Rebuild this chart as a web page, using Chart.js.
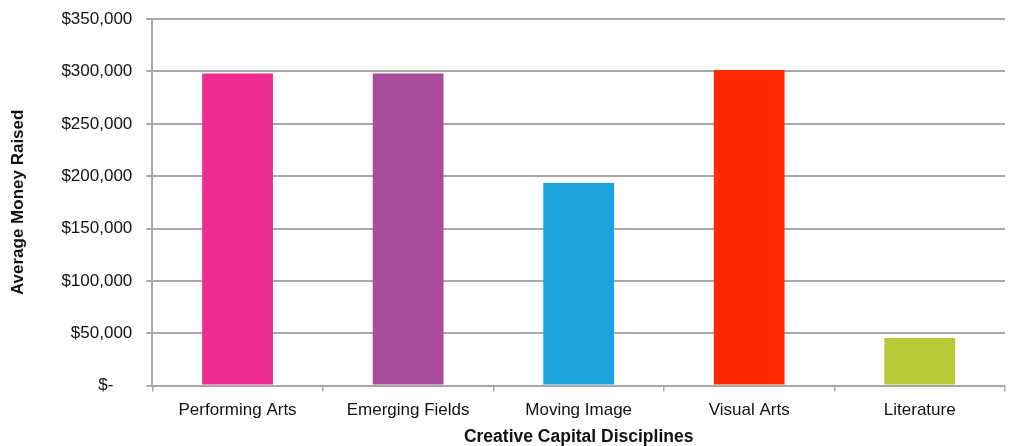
<!DOCTYPE html>
<html>
<head>
<meta charset="utf-8">
<script src="https://cdn.jsdelivr.net/npm/chart.js@4"></script>
<style>
  html, body { margin: 0; padding: 0; background: #fff; }
  #wrap { width: 1011px; height: 446px; position: relative; }
</style>
</head>
<body>
<div id="wrap"><canvas id="chart"></canvas></div>
<script>
const disciplines = ["Performing Arts", "Emerging Fields", "Moving Image", "Visual Arts", "Literature"];
const avgRaised = [298000, 298000, 193500, 301500, 45500];
const barColors = ["#ee2c93", "#a94c9a", "#1ba3dd", "#ff2a00", "#b6ca36"];

const gridGray = "#a8a8a8";
const font = { family: "Liberation Sans, Arial, sans-serif", size: 17 };

const ctx = document.getElementById("chart").getContext("2d");
new Chart(ctx, {
  type: "bar",
  data: {
    labels: disciplines,
    datasets: [{
      data: avgRaised,
      backgroundColor: barColors,
      categoryPercentage: 1,
      barPercentage: 0.415
    }]
  },
  options: {
    responsive: true,
    maintainAspectRatio: false,
    animation: false,
    layout: { padding: { top: 7, right: 6, left: 8, bottom: 0 } },
    plugins: {
      legend: { display: false },
      tooltip: { enabled: false }
    },
    scales: {
      x: {
        grid: {
          offset: true,
          drawOnChartArea: false,
          drawTicks: true,
          tickLength: 6,
          color: gridGray,
          lineWidth: 1.5
        },
        border: { color: gridGray, width: 2 },
        ticks: { color: "#111", font: font, padding: 9, maxRotation: 0 },
        title: {
          display: true,
          text: "Creative Capital Disciplines",
          color: "#111",
          font: { ...font, weight: "bold", size: 17.5 },
          padding: { top: -3, bottom: -2 }
        }
      },
      y: {
        min: 0,
        max: 350000,
        ticks: {
          stepSize: 50000,
          color: "#111",
          font: { ...font, lineHeight: 0.6 },
          padding: 14,
          callback: v => v === 0 ? "$-    " : "$" + v.toLocaleString("en-US")
        },
        grid: { color: gridGray, lineWidth: 2, tickLength: 6 },
        border: { color: gridGray, width: 2 },
        title: {
          display: true,
          text: "Average Money Raised",
          color: "#111",
          font: { ...font, weight: "bold", size: 17 },
          padding: { top: 0, bottom: 19 }
        }
      }
    }
  }
});
</script>
</body>
</html>
